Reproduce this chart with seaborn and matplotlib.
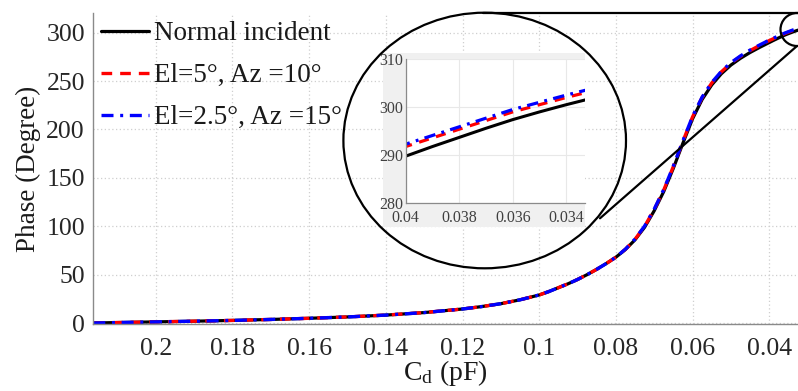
import numpy as np
import pandas as pd
import matplotlib
matplotlib.use("Agg")
import matplotlib.pyplot as plt
import seaborn as sns
from matplotlib.patches import Ellipse, Rectangle
from matplotlib.lines import Line2D

# ---- data ----
cd = [0.2163, 0.21, 0.20, 0.19, 0.18, 0.17, 0.16, 0.15, 0.14, 0.13,
      0.12, 0.115, 0.11, 0.105, 0.10, 0.0975, 0.095, 0.0925, 0.09, 0.0875,
      0.085, 0.0825, 0.08, 0.0775, 0.075, 0.0725, 0.07, 0.0675, 0.065, 0.0625,
      0.06, 0.0575, 0.055, 0.0525, 0.05, 0.0475, 0.045, 0.0425, 0.04,
      0.039, 0.038, 0.037, 0.036, 0.035, 0.034, 0.033, 0.0325]
phase_normal = [0, 0.5, 1.2, 1.9, 2.7, 3.7, 4.9, 6.3, 8.2, 10.8,
                14.5, 17, 20, 24, 29, 32.5, 36.5, 40.5, 45, 50,
                55.5, 61.5, 68, 76, 86, 99, 116, 136, 160, 186,
                211, 231, 246, 257.5, 266.5, 273.5, 279.5, 284.8, 289.8,
                291.8, 293.7, 295.6, 297.4, 299.0, 300.5, 301.9, 302.6]
phase_el5 = [0, 0.5, 1.2, 1.9, 2.7, 3.7, 4.9, 6.3, 8.2, 10.8,
             14.5, 17, 20, 24, 29, 32.5, 36.5, 40.5, 45, 50,
             55.5, 61.5, 68, 76.3, 86.6, 100, 117.3, 137.6, 161.8, 188,
             213, 233, 248, 259.5, 268.5, 275.5, 281.5, 286.8, 291.8,
             293.6, 295.4, 297.2, 299.0, 300.5, 302.0, 303.4, 304.1]
phase_el25 = [0, 0.5, 1.2, 1.9, 2.7, 3.7, 4.9, 6.3, 8.2, 10.8,
              14.5, 17, 20, 24, 29, 32.5, 36.5, 40.5, 45, 50,
              55.5, 61.5, 68, 76.4, 86.8, 100.3, 117.7, 138.1, 162.3, 188.5,
              213.5, 233.5, 248.5, 260, 269, 276, 282, 287.3, 292.3,
              294.1, 295.9, 297.7, 299.5, 301.0, 302.5, 303.9, 304.6]
labels = ["Normal incident", "El=5°, Az =10°", "El=2.5°, Az =15°"]
colors = ["black", "red", "blue"]
yticks = [0, 50, 100, 150, 200, 250, 300]
xticks = [0.2, 0.18, 0.16, 0.14, 0.12, 0.1, 0.08, 0.06, 0.04]
xticklabels = ["0.2", "0.18", "0.16", "0.14", "0.12", "0.1", "0.08", "0.06", "0.04"]
inset_xticks = [0.04, 0.038, 0.036, 0.034]
inset_xticklabels = ["0.04", "0.038", "0.036", "0.034"]
inset_yticks = [280, 290, 300, 310]

df = pd.DataFrame({
    "Cd": cd * 3,
    "Phase": phase_normal + phase_el5 + phase_el25,
    "Case": [labels[0]] * len(cd) + [labels[1]] * len(cd) + [labels[2]] * len(cd),
})

sns.set_theme(style="white")
plt.rcParams["font.family"] = ["Liberation Serif", "DejaVu Serif"]
plt.rcParams["mathtext.fontset"] = "custom"
plt.rcParams["mathtext.rm"] = "Liberation Serif"
plt.rcParams["mathtext.it"] = "Liberation Serif:italic"

W, H = 798, 391
fig = plt.figure(figsize=(W / 100, H / 100), dpi=100)
fig.patch.set_facecolor("white")

def fx(px):
    return px / W

def fy(py):
    return 1 - py / H

ax = fig.add_axes([fx(93.3), fy(324), fx(798 - 93.3), (324 - 13.3) / H])

styles = {
    labels[0]: dict(lw=2.3, dashes=None),
    labels[1]: dict(lw=2.4, dashes=(3.2, 2.4)),
    labels[2]: dict(lw=2.4, dashes=(3.6, 2.0, 0.9, 2.0)),
}

def draw(axis, lw_scale=1.0):
    for lab, col in zip(labels, colors):
        sub = df[df["Case"] == lab]
        st = styles[lab]
        sns.lineplot(data=sub, x="Cd", y="Phase", ax=axis, color=col,
                     lw=st["lw"] * lw_scale, legend=False, sort=False,
                     estimator=None)
        line = axis.lines[-1]
        if st["dashes"] is not None:
            line.set_dashes(st["dashes"])

draw(ax)

ax.set_xlim(0.2163, 0.0325)
ax.set_ylim(-1, 320)
ax.set_xticks(xticks)
ax.set_xticklabels(xticklabels)
ax.set_yticks(yticks)
ax.grid(True, ls=(0, (1, 2)), color="#cfcfcf", lw=0.9)
ax.set_axisbelow(True)
for s in ["top", "right"]:
    ax.spines[s].set_visible(False)
for s in ["left", "bottom"]:
    ax.spines[s].set_color("#8a8a8a")
    ax.spines[s].set_linewidth(1.0)
ax.tick_params(direction="in", length=5, width=0.8, color="#8a8a8a",
               labelsize=18.5, labelcolor="#262626")
ax.tick_params(axis="x", pad=10)
ax.tick_params(axis="y", pad=6)
ax.set_ylabel("Phase (Degree)", fontsize=19.5, color="#1a1a1a", labelpad=4)
ax.set_xlabel("C$_\\mathrm{d}$ (pF)", fontsize=20, color="#1a1a1a", labelpad=-1)

handles = [
    Line2D([], [], color="black", lw=2.3),
    Line2D([], [], color="red", lw=2.4, dashes=(3.2, 2.4)),
    Line2D([], [], color="blue", lw=2.4, dashes=(3.6, 2.0, 0.9, 2.0)),
]
leg = ax.legend(handles, labels, loc="upper left", bbox_to_anchor=(0.0, 1.0),
                frameon=False, fontsize=19.5, handlelength=1.75, handletextpad=0.2,
                borderaxespad=0.0, borderpad=0.3, labelspacing=0.62)
for t in leg.get_texts():
    t.set_color("#1a1a1a")

# ---- magnifier decorations ----
gray_box = Rectangle((fx(383), fy(226.7)), fx(585 - 383), (226.7 - 53.3) / H,
                     transform=fig.transFigure, facecolor="#f0f0f0",
                     edgecolor="none", zorder=2.5)
fig.patches.append(gray_box)

big = Ellipse((fx(484.7), fy(140.5)), fx(282.6), 255.6 / H,
              transform=fig.transFigure, fill=False, edgecolor="black",
              lw=1.6, zorder=4)
fig.patches.append(big)
small = Ellipse((fx(797), fy(29.5)), fx(33), 33 / H,
                transform=fig.transFigure, fill=False, edgecolor="black",
                lw=1.6, zorder=4)
fig.patches.append(small)
fig.lines.append(Line2D([fx(483), fx(798)], [fy(13.3), fy(13.3)],
                        transform=fig.transFigure, color="black", lw=1.6, zorder=4))
fig.lines.append(Line2D([fx(600), fx(797)], [fy(218.3), fy(46)],
                        transform=fig.transFigure, color="black", lw=1.6, zorder=4))

axin = fig.add_axes([fx(405.7), fy(203.3), fx(585 - 405.7), (203.3 - 59) / H])
axin.set_zorder(3)
axin.set_facecolor("white")
draw(axin, lw_scale=0.95)
axin.set_xlim(0.04, 0.0333)
axin.set_ylim(280, 310)
axin.set_xticks(inset_xticks)
axin.set_xticklabels(inset_xticklabels)
axin.set_yticks(inset_yticks)
axin.set_xlabel("")
axin.set_ylabel("")
axin.grid(True, color="#e8e8e8", lw=0.8)
axin.set_axisbelow(True)
for s in ["top", "right"]:
    axin.spines[s].set_visible(False)
for s in ["left", "bottom"]:
    axin.spines[s].set_color("#8a8a8a")
    axin.spines[s].set_linewidth(0.9)
axin.tick_params(direction="in", length=3, width=0.6, color="#8a8a8a",
                 labelsize=11.5, labelcolor="#404040")
axin.tick_params(axis="x", pad=5)
axin.tick_params(axis="y", pad=2)

fig.savefig("out.png", dpi=100, facecolor="white")
